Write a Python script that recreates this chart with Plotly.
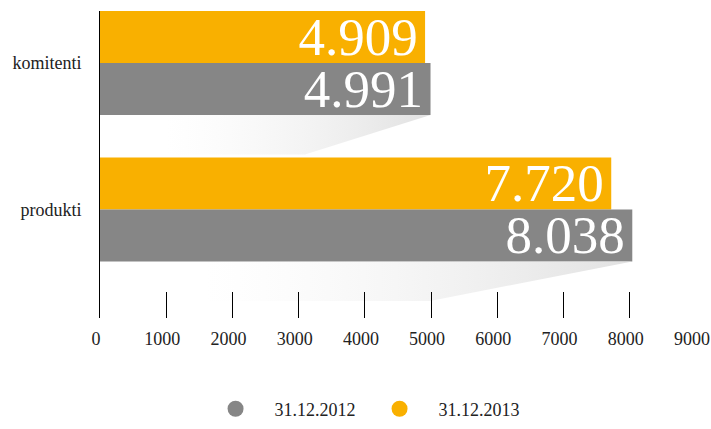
import plotly.graph_objects as go

categories = ["komitenti", "produkti"]
series_names = ["31.12.2012", "31.12.2013"]
values_2012 = [4991, 8038]
values_2013 = [4909, 7720]
labels_2012 = ["4.991", "8.038"]
labels_2013 = ["4.909", "7.720"]
x_ticks = [0, 1000, 2000, 3000, 4000, 5000, 6000, 7000, 8000, 9000]

GRAY = "#868686"
ORANGE = "#F9B000"
FONT = "Liberation Serif, Times New Roman, serif"
HAIR = "\u200a"

ypos = list(range(len(categories)))
BARGAP = 0.29
bw = (1 - BARGAP) / 2

fig = go.Figure()

# soft shadows beneath the grey bars (decoration derived from values)
for i, v in zip(ypos, values_2012):
    yb = i + bw
    fig.add_trace(go.Scatter(
        x=[v, 0.62 * v, 0.2 * v, 0.2 * v, v],
        y=[yb, yb + 0.27, yb + 0.27, yb, yb],
        mode="lines", line=dict(width=0), fill="toself",
        fillgradient=dict(type="horizontal",
                          colorscale=[[0, "rgba(240,240,240,0)"], [1, "rgba(220,220,220,0.85)"]]),
        hoverinfo="skip", showlegend=False,
    ))

fig.add_trace(go.Bar(
    y=ypos, x=values_2013, orientation="h", name=series_names[1],
    marker=dict(color=ORANGE, line=dict(width=0)),
    text=[t + HAIR for t in labels_2013], textposition="inside", insidetextanchor="end",
    constraintext="none", cliponaxis=False,
    textfont=dict(family=FONT, size=53, color="white"),
    showlegend=False,
))
fig.add_trace(go.Bar(
    y=ypos, x=values_2012, orientation="h", name=series_names[0],
    marker=dict(color=GRAY, line=dict(width=0)),
    text=[t + HAIR for t in labels_2012], textposition="inside", insidetextanchor="end",
    constraintext="none", cliponaxis=False,
    textfont=dict(family=FONT, size=53, color="white"),
    showlegend=False,
))

# legend entries with circle symbols
for name, col in zip(series_names, [GRAY, ORANGE]):
    fig.add_trace(go.Scatter(
        x=[None], y=[None], mode="markers", name=name,
        marker=dict(color=col, size=18, symbol="circle"),
    ))

fig.update_layout(
    width=711, height=429,
    margin=dict(l=100, r=15, t=11, b=111, autoexpand=False),
    paper_bgcolor="white", plot_bgcolor="white",
    barmode="group", bargap=BARGAP, bargroupgap=0,
    font=dict(family=FONT, size=18, color="#222222"),
    showlegend=True,
    legend=dict(orientation="h", x=0.162, xanchor="left", y=-0.2965, yanchor="middle",
                entrywidth=81, entrywidthmode="pixels", itemwidth=68,
                font=dict(family=FONT, size=18, color="#222222")),
    xaxis=dict(range=[0, 9000], tickvals=x_ticks, ticktext=[str(t) for t in x_ticks],
               ticks="inside", ticklen=26, tickcolor="black", tickwidth=1,
               ticklabelstandoff=8, ticklabelshift=-4, ticklabeloverflow="allow",
               showgrid=False, zeroline=False, showline=False,
               tickfont=dict(family=FONT, size=18, color="#222222")),
    yaxis=dict(range=[1 + 0.741, -0.355], tickvals=ypos, ticktext=categories,
               showgrid=False, zeroline=False, showline=True, linecolor="black", linewidth=1,
               ticks="", ticklabelstandoff=14,
               tickfont=dict(family=FONT, size=18, color="#222222")),
)

fig.write_html(
    "out.html",
    config={"displayModeBar": False},
    post_script="document.body.style.margin='0';document.body.style.padding='0';"
                "document.documentElement.style.overflow='hidden';",
)
